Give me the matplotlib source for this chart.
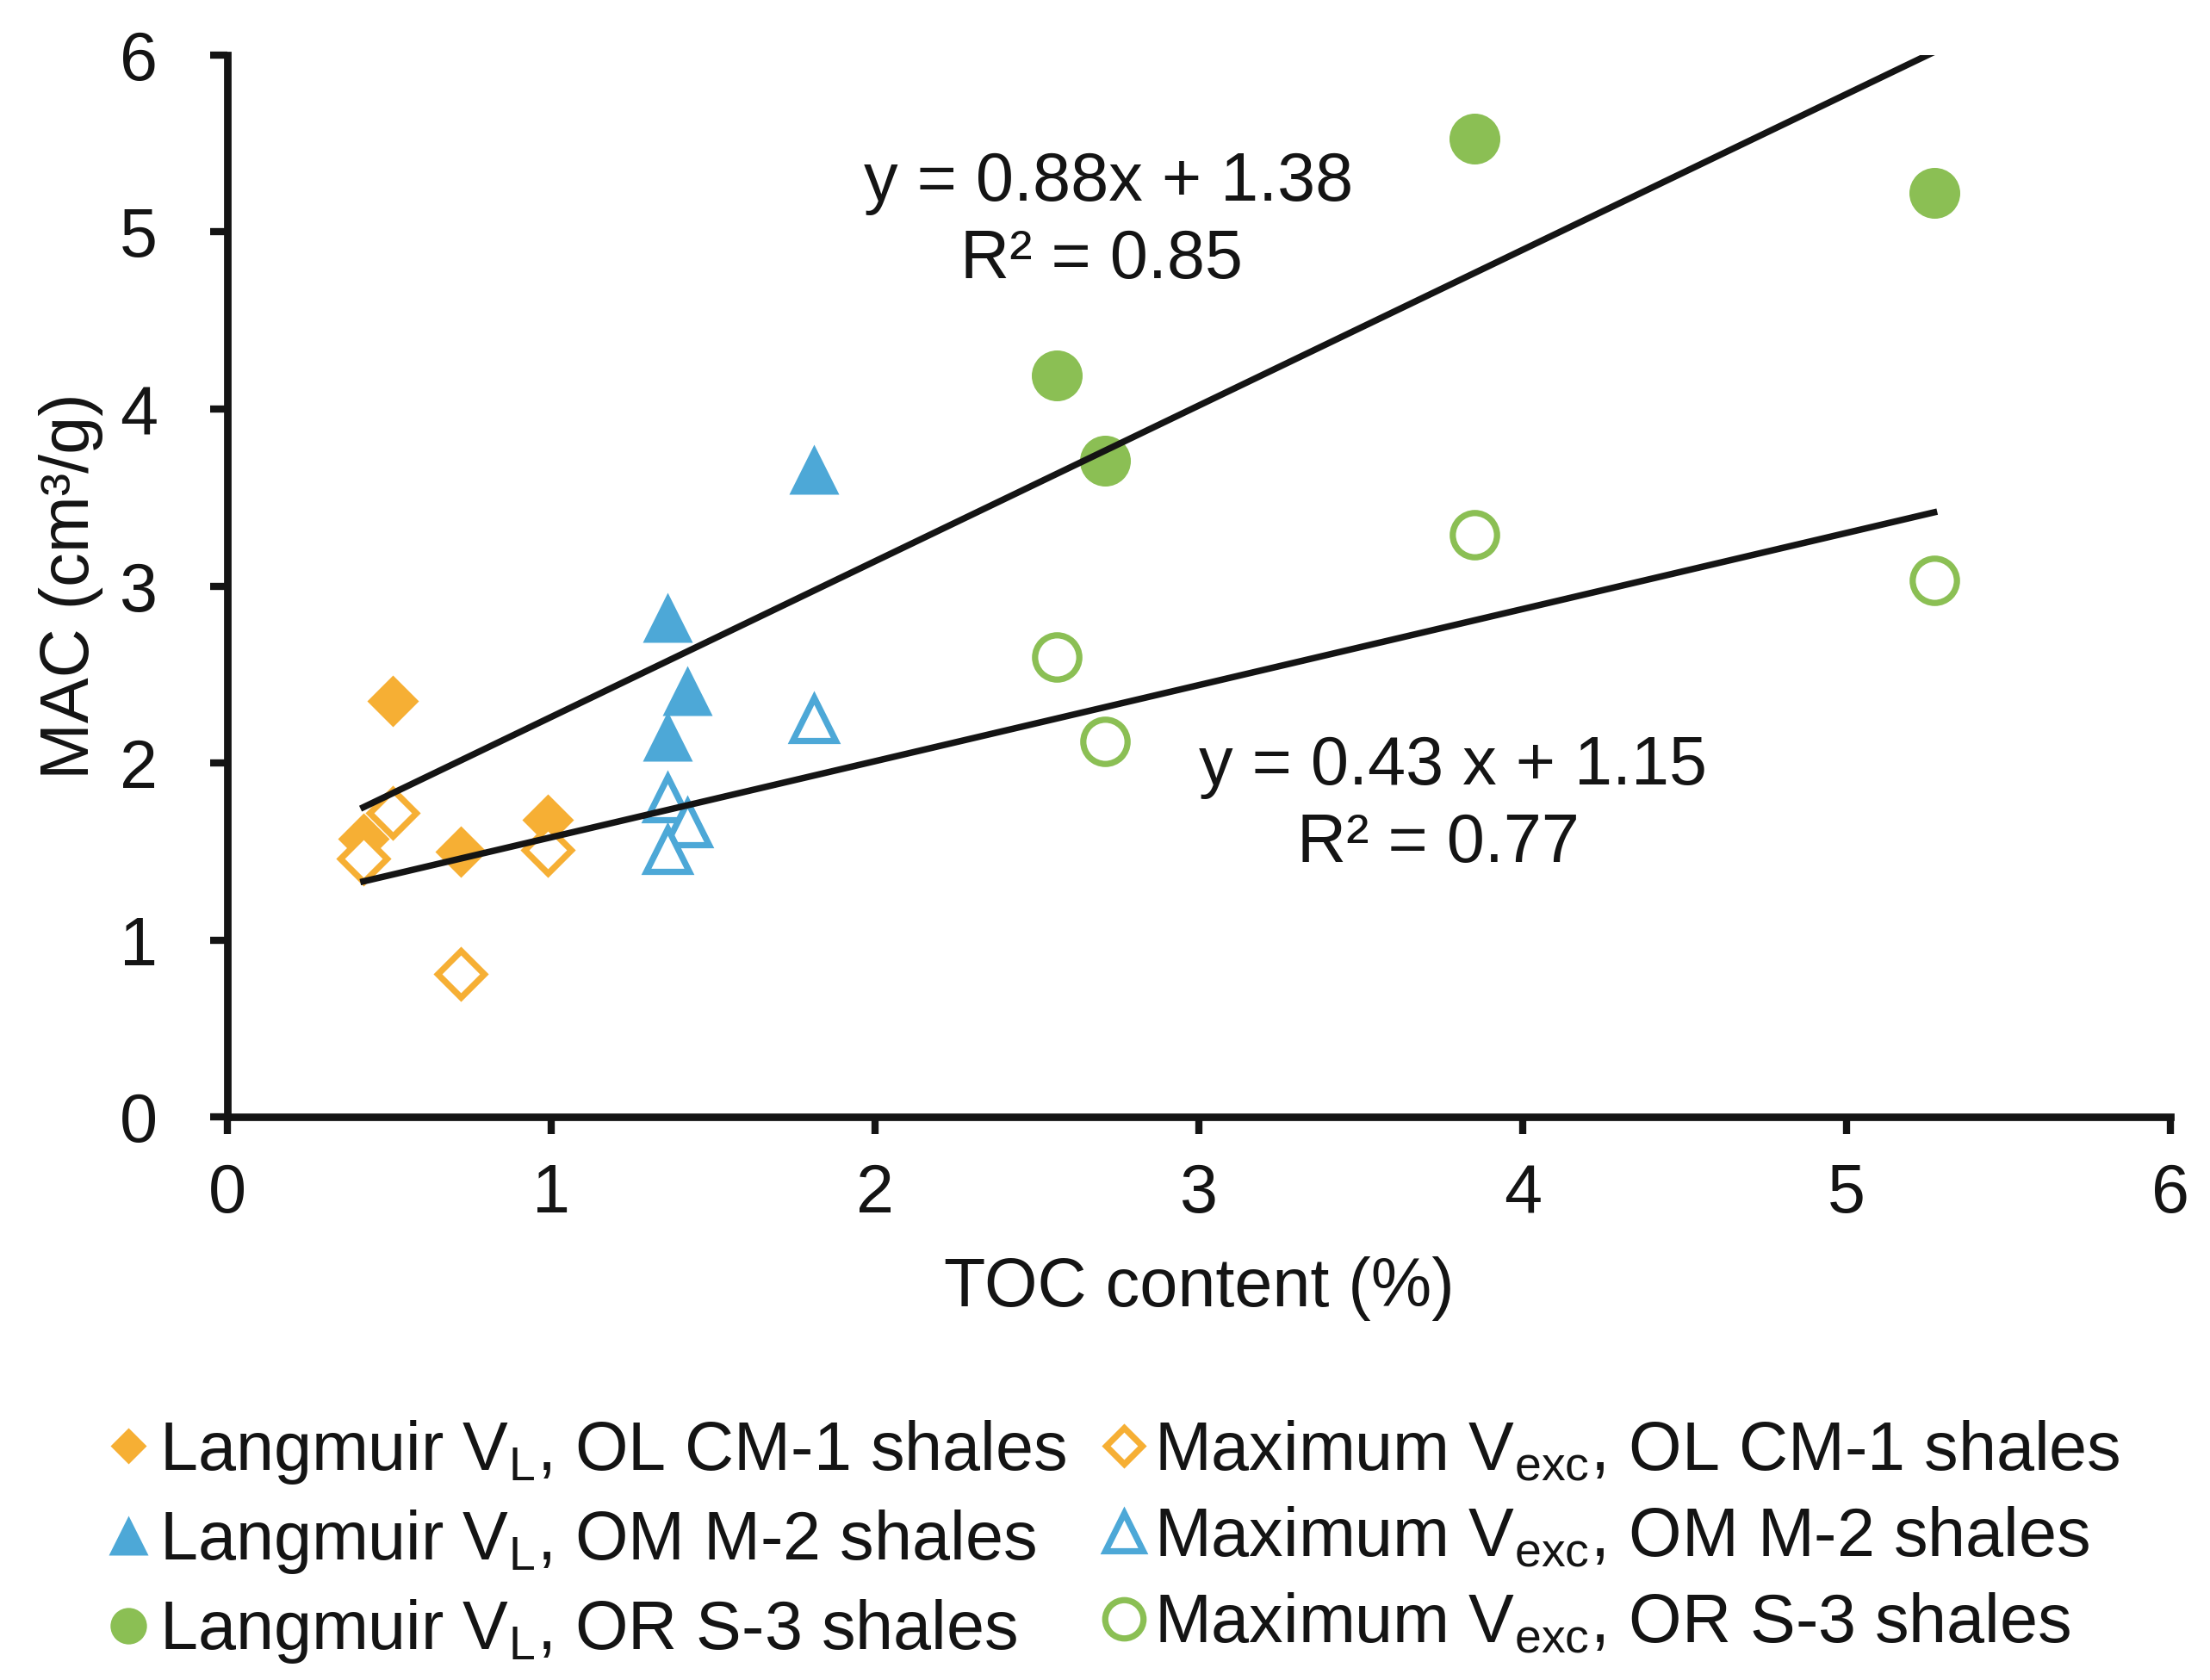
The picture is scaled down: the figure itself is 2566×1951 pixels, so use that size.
import matplotlib
matplotlib.use("Agg")
import matplotlib.pyplot as plt
import numpy as np

plt.rcParams["font.family"] = ["Liberation Sans", "DejaVu Sans"]
plt.rcParams["mathtext.fontset"] = "custom"
plt.rcParams["mathtext.rm"] = "Liberation Sans"
plt.rcParams["mathtext.it"] = "Liberation Sans:italic"

# OL CM-1 shales
toc_cm1 = [0.51, 0.42, 0.72, 0.99]
vl_cm1 = [2.35, 1.57, 1.50, 1.68]
vexc_cm1 = [1.72, 1.46, 0.81, 1.51]

# OM M-2 shales
toc_m2 = [1.36, 1.42, 1.36, 1.81]
vl_m2 = [2.82, 2.41, 2.15, 3.66]
vexc_m2 = [1.80, 1.66, 1.51, 2.25]

# OR S-3 shales
toc_s3 = [3.85, 5.27, 2.56, 2.71]
vl_s3 = [5.53, 5.22, 4.19, 3.71]
vexc_s3 = [3.29, 3.03, 2.60, 2.12]

# trend lines as printed on the chart
fit_vl = (0.88, 1.38)
fit_vexc = (0.43, 1.15)

orange = "#F6AF34"
blue = "#4DA8D7"
green = "#8BBF54"
ink = "#141414"
fs = 57
mew = 5.2

fig = plt.figure(figsize=(25.66, 19.51), dpi=100)
ax = fig.add_axes([0.1029, 0.3352, 0.8792, 0.632])

all_toc = np.array(toc_cm1 + toc_m2 + toc_s3)
xs = np.array([all_toc.min(), all_toc.max()])
ax.plot(xs, fit_vl[0] * xs + fit_vl[1], color=ink, lw=5.4, zorder=3)
ax.plot(xs, fit_vexc[0] * xs + fit_vexc[1], color=ink, lw=5.4, zorder=3)

h1, = ax.plot(toc_cm1, vl_cm1, ls="none", marker="D", ms=30.5, color=orange, mec="none",
              label=r"Langmuir V$_\mathregular{L}$, OL CM-1 shales", zorder=2)
h2, = ax.plot(toc_m2, vl_m2, ls="none", marker="^", ms=42, color=blue, mec="none",
              label=r"Langmuir V$_\mathregular{L}$, OM M-2 shales", zorder=2)
h3, = ax.plot(toc_s3, vl_s3, ls="none", marker="o", ms=42.5, color=green, mec="none",
              label=r"Langmuir V$_\mathregular{L}$, OR S-3 shales", zorder=2)
h4, = ax.plot(toc_cm1, vexc_cm1, ls="none", marker="D", ms=28, mfc="white", mec=orange, mew=mew,
              label=r"Maximum V$_\mathregular{exc}$, OL CM-1 shales", zorder=2)
h5, = ax.plot(toc_m2, vexc_m2, ls="none", marker="^", ms=36, mfc="white", mec=blue, mew=mew,
              label=r"Maximum V$_\mathregular{exc}$, OM M-2 shales", zorder=2)
h6, = ax.plot(toc_s3, vexc_s3, ls="none", marker="o", ms=37, mfc="white", mec=green, mew=mew,
              label=r"Maximum V$_\mathregular{exc}$, OR S-3 shales", zorder=2)

ax.text(2.72, 5.18, "y = 0.88x + 1.38", ha="center", va="baseline", fontsize=fs, color=ink)
ax.text(2.70, 4.74, "R² = 0.85", ha="center", va="baseline", fontsize=fs, color=ink)
ax.text(3.785, 1.88, "y = 0.43 x + 1.15", ha="center", va="baseline", fontsize=fs, color=ink)
ax.text(3.74, 1.44, "R² = 0.77", ha="center", va="baseline", fontsize=fs, color=ink)

ax.set_xlim(0, 6)
ax.set_ylim(0, 6)
ax.set_xticks(range(0, 7))
ax.set_yticks(range(0, 7))
for side in ("top", "right"):
    ax.spines[side].set_visible(False)
for side in ("left", "bottom"):
    ax.spines[side].set_linewidth(6.3)
    ax.spines[side].set_color(ink)
ax.tick_params(axis="both", direction="out", length=14.4, width=6.0, color=ink,
               labelsize=fs, labelcolor=ink)
ax.tick_params(axis="x", pad=24)
ax.tick_params(axis="y", pad=44)
ax.set_xlabel("TOC content (%)", fontsize=fs, color=ink, labelpad=24)
ax.set_ylabel("MAC (cm³/g)", fontsize=fs, color=ink)
ax.yaxis.set_label_coords(-0.064, 0.5)

leg = fig.legend(handles=[h1, h2, h3, h4, h5, h6], ncol=2, loc="upper left",
                 bbox_to_anchor=(0.049, 0.156), frameon=False, fontsize=fs,
                 handlelength=0.6, handletextpad=0.15,
                 columnspacing=0.54, labelspacing=0.32, borderpad=0, borderaxespad=0,
                 labelcolor=ink)
# legend symbols: filled ones a bit smaller than in the plot
for handle, size in zip(leg.legend_handles, [21.5, 33, 30.5, 21.5, 31, 32]):
    handle.set_markersize(size)

fig.savefig("out.png", dpi=100)
plt.close(fig)
